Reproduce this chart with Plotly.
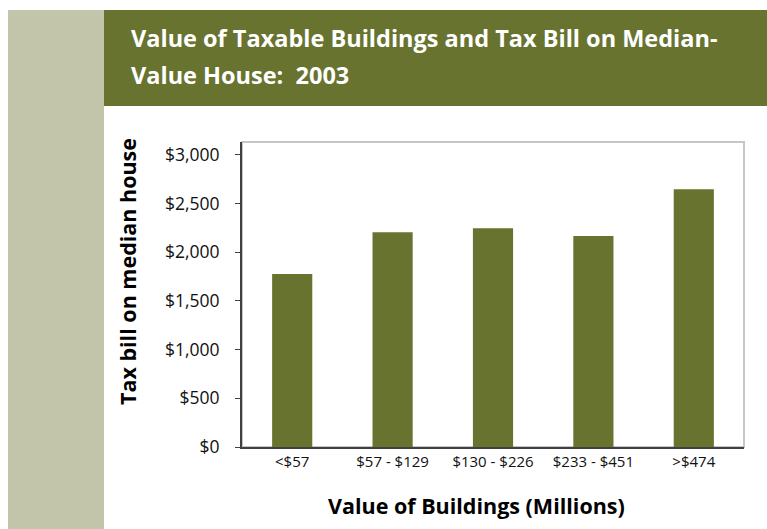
import plotly.graph_objects as go

categories = ["<$57", "$57 - $129", "$130 - $226", "$233 - $451", ">$474"]
tax_bill = [1775, 2205, 2245, 2165, 2645]
y_ticks = [0, 500, 1000, 1500, 2000, 2500, 3000]
y_ticklabels = ["$0", "$500", "$1,000", "$1,500", "$2,000", "$2,500", "$3,000"]
title_lines = ["Value of Taxable Buildings and Tax Bill on Median-", "Value House:  2003"]

W, H = 767, 529
L, R, T, B = 242, 23, 142, 82
PW = W - L - R
PH = H - T - B

def px(x):
    return (x - L) / PW

def py(y):
    return (H - B - y) / PH

OLIVE = "#697330"
SIDE = "#c2c5aa"
FONT = "Open Sans"

fig = go.Figure(go.Bar(x=categories, y=tax_bill, marker_color=OLIVE, marker_line_width=0))

shapes = [
    dict(type="rect", xref="paper", yref="paper", x0=px(8), x1=px(104), y0=py(10), y1=py(H + 5),
         fillcolor=SIDE, line_width=0, layer="below"),
    dict(type="rect", xref="paper", yref="paper", x0=px(104), x1=px(W + 5), y0=py(10), y1=py(106),
         fillcolor=OLIVE, line_width=0, layer="below"),
    dict(type="rect", xref="paper", yref="paper", x0=0, x1=1, y0=0, y1=1,
         line=dict(color="#c6c6c6", width=2), fillcolor="rgba(0,0,0,0)", layer="below"),
]

annotations = [
    dict(text=title_lines[0], xref="paper", yref="paper", x=px(129), y=py(38),
         xanchor="left", yanchor="middle", showarrow=False,
         font=dict(family=FONT, size=23.5, color="white", weight="bold")),
    dict(text=title_lines[1], xref="paper", yref="paper", x=px(129), y=py(75),
         xanchor="left", yanchor="middle", showarrow=False,
         font=dict(family=FONT, size=23.5, color="white", weight="bold")),
    dict(text="Tax bill on median house", xref="paper", yref="paper", x=px(127), y=py(272),
         textangle=-90, showarrow=False, xanchor="center", yanchor="middle",
         font=dict(family=FONT, size=21.5, color="black", weight="bold")),
    dict(text="Value of Buildings (Millions)", xref="paper", yref="paper", x=px(476), y=py(505),
         showarrow=False, xanchor="center", yanchor="middle",
         font=dict(family=FONT, size=21.5, color="black", weight="bold")),
]

fig.update_layout(
    width=W, height=H,
    margin=dict(l=L, r=R, t=T, b=B),
    paper_bgcolor="white", plot_bgcolor="white",
    bargap=0.6,
    showlegend=False,
    shapes=shapes,
    annotations=annotations,
    font=dict(family=FONT, size=15, color="black"),
)
fig.update_yaxes(range=[0, 3130], tickvals=y_ticks, ticktext=y_ticklabels,
                 showgrid=False, zeroline=False, showline=True, linecolor="#404040", linewidth=2,
                 ticks="outside", ticklen=5, tickcolor="#404040", tickwidth=1,
                 ticklabelstandoff=12,
                 tickfont=dict(family=FONT, size=17.5, color="#111111"))
fig.update_xaxes(showgrid=False, showline=True, linecolor="#404040", linewidth=2,
                 ticks="", tickfont=dict(family=FONT, size=15, color="#111111"))

fig.write_html("out.html")
